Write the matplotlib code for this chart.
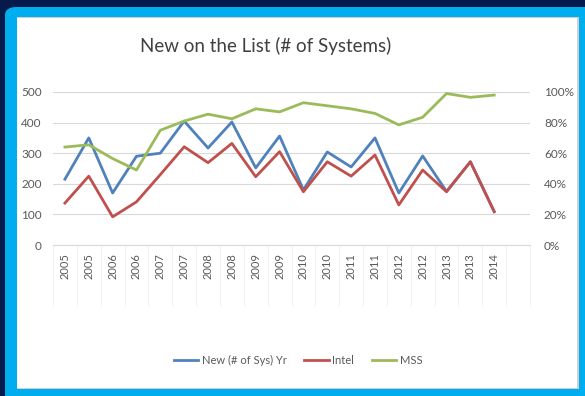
import numpy as np
import matplotlib.pyplot as plt
from matplotlib.patches import FancyBboxPatch, Rectangle
from matplotlib.ticker import FuncFormatter

# chart data
years = ['2005', '2005', '2006', '2006', '2007', '2007', '2008', '2008', '2009', '2009',
         '2010', '2010', '2011', '2011', '2012', '2012', '2013', '2013', '2014', '']
new_sys = [215, 350, 170, 290, 300, 405, 317, 402, 252, 356,
           180, 304, 255, 350, 170, 291, 175, 272, 109]
intel = [137, 225, 92, 141, 230, 321, 269, 332, 223, 305,
         174, 272, 225, 294, 131, 245, 174, 272, 109]
mss = [64, 65.5, 56.5, 49, 75, 81, 85.5, 82.5, 89, 87,
       93, 91, 89, 86, 78.5, 83.5, 99, 96.5, 98]

navy = '#061a4c'
frame = '#00aeef'
text_col = '#595959'
grid_col = '#d9d9d9'

plt.rcParams['font.family'] = ['Lato', 'DejaVu Sans']

fig = plt.figure(figsize=(5.85, 3.96), dpi=100)
fig.patch.set_facecolor(navy)

W, H = 585.0, 396.0
# blue frame with rounded top-left corner
fig.patches.append(FancyBboxPatch((5 / W, -0.05), 1.2, 1 - 7 / H + 0.05,
                                  boxstyle='round,pad=0,rounding_size=0.02',
                                  transform=fig.transFigure, facecolor=frame,
                                  edgecolor='none', zorder=0))
# shadow + white panel
fig.patches.append(Rectangle((17 / W, 1 - 389 / H), 562 / W, 372 / H,
                             transform=fig.transFigure, facecolor='#cfcfcf',
                             edgecolor='none', zorder=1))
fig.patches.append(Rectangle((17 / W, 1 - 387.5 / H), 560 / W, 370 / H,
                             transform=fig.transFigure, facecolor='white',
                             edgecolor='none', zorder=2))

ax = fig.add_axes([53 / W, 151 / H, 477 / W, 153 / H])
ax.set_facecolor('none')
ax2 = ax.twinx()
ax.set_zorder(5)
ax2.set_zorder(6)

x = np.arange(len(years))
ax.plot(x[:len(new_sys)], new_sys, color='#4f81bd', lw=2.0, label='New (# of Sys) Yr', zorder=3)
ax.plot(x[:len(intel)], intel, color='#c0504d', lw=2.0, label='Intel', zorder=3)
ax2.plot(x[:len(mss)], mss, color='#9bbb59', lw=2.0, label='MSS', zorder=3)

ax.set_xlim(-0.5, len(years) - 0.5)
ax.set_ylim(0, 500)
ax2.set_ylim(0, 100)
ax.set_yticks(range(0, 501, 100))
ax2.set_yticks(range(0, 101, 20))
ax2.yaxis.set_major_formatter(FuncFormatter(lambda v, p: '%d%%' % v))

ax.grid(axis='y', color=grid_col, lw=0.8)
ax.set_axisbelow(True)
for a in (ax, ax2):
    for s in a.spines.values():
        s.set_visible(False)
    a.tick_params(axis='y', length=0, labelsize=8.5, labelcolor=text_col)
ax.spines['bottom'].set_visible(True)
ax.spines['bottom'].set_color(grid_col)
ax.tick_params(axis='y', pad=8)
ax2.tick_params(axis='y', pad=10)

ax.set_xticks(x)
ax.set_xticklabels(years, rotation=90, fontsize=8, color=text_col)
ax.tick_params(axis='x', length=0, pad=6)
ax.set_xticks(np.arange(-0.5, len(years), 1), minor=True)
ax.tick_params(axis='x', which='minor', length=44, color='#f2f2f2', width=0.8)

fig.text(266 / W, 1 - 46 / H, 'New on the List (# of Systems)', ha='center', va='center',
         fontsize=13.5, color='#404040', zorder=7)

h1, l1 = ax.get_legend_handles_labels()
h2, l2 = ax2.get_legend_handles_labels()
leg = fig.legend(h1 + h2, l1 + l2, loc='center', bbox_to_anchor=(298 / W, 1 - 360 / H),
                 ncol=3, frameon=False, fontsize=8, labelcolor=text_col,
                 handlelength=2.2, handletextpad=0.3, columnspacing=1.6)
leg.set_zorder(7)

fig.savefig('out.png', dpi=100, facecolor=navy)
